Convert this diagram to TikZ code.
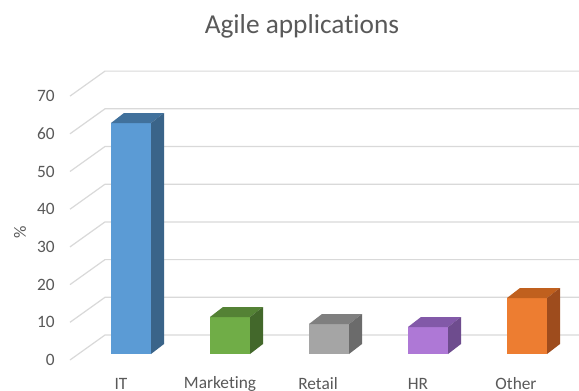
\documentclass[tikz,border=0pt]{standalone}
\usepackage{fontspec}
\setmainfont[Ligatures=NoCommon]{Carlito}
\definecolor{txt}{HTML}{595959}
\definecolor{gridc}{HTML}{D9D9D9}
\definecolor{bluef}{HTML}{5B9BD5}\definecolor{bluet}{HTML}{41719C}\definecolor{blues}{HTML}{3A6489}
\definecolor{greenf}{HTML}{70AD47}\definecolor{greent}{HTML}{548235}\definecolor{greens}{HTML}{43682B}
\definecolor{grayf}{HTML}{A5A5A5}\definecolor{grayt}{HTML}{7F7F7F}\definecolor{grays}{HTML}{6B6B6B}
\definecolor{purplef}{HTML}{AE78D6}\definecolor{purplet}{HTML}{8259A8}\definecolor{purples}{HTML}{6E4C8E}
\definecolor{orangef}{HTML}{ED7D31}\definecolor{oranget}{HTML}{C0601E}\definecolor{oranges}{HTML}{9E4C1D}
\newcommand\agbar[5]{%
  \fill[#3] (#1,354) rectangle (#1+40,#2);
  \fill[#4] (#1,#2) -- (#1+13,#2-10) -- (#1+53,#2-10) -- (#1+40,#2) -- cycle;
  \fill[#5] (#1+40,#2) -- (#1+53,#2-10) -- (#1+53,344) -- (#1+40,354) -- cycle;
}
\begin{document}
\begin{tikzpicture}[x=0.75pt,y=-0.75pt,
  gridline/.style={draw=gridc, line width=0.9pt},
  ticklab/.style={anchor=east, text=txt, font=\fontsize{13}{15}\selectfont, inner sep=0pt},
  catlab/.style={anchor=center, text=txt, font=\fontsize{13}{15}\selectfont, inner sep=0pt}]
\useasboundingbox[fill=white] (0,0) rectangle (579,390);
% gridlines and tick labels
\foreach \v [count=\i from 0] in {0,10,20,30,40,50,60,70} {
  \pgfmathsetmacro\yy{360-37.7*\i}
  \draw[gridline] (70,\yy) -- (105,\yy-25) -- (579,\yy-25);
  \node[ticklab] (t\i) at (55,\yy) {\v};
}
\node[text=txt, rotate=90, font=\fontsize{13}{15}\selectfont, inner sep=0pt] (ylab) at (20,232) {\%};
% bars
\agbar{111}{123}{bluef}{bluet}{blues}
\agbar{210}{317}{greenf}{greent}{greens}
\agbar{309}{324}{grayf}{grayt}{grays}
\agbar{408}{327}{purplef}{purplet}{purples}
\agbar{507}{298}{orangef}{oranget}{oranges}
% category labels
\node[catlab] (c1) at (121,384) {IT};
\node[catlab] (c2) at (220,384) {Marketing};
\node[catlab] (c3) at (318,384) {Retail};
\node[catlab] (c4) at (418,384) {HR};
\node[catlab] (c5) at (516,384) {Other};
% title
\node[text=txt, font=\fontsize{20.5}{24}\selectfont, inner sep=0pt] (title) at (302,26) {Agile applications};
\end{tikzpicture}
\end{document}
